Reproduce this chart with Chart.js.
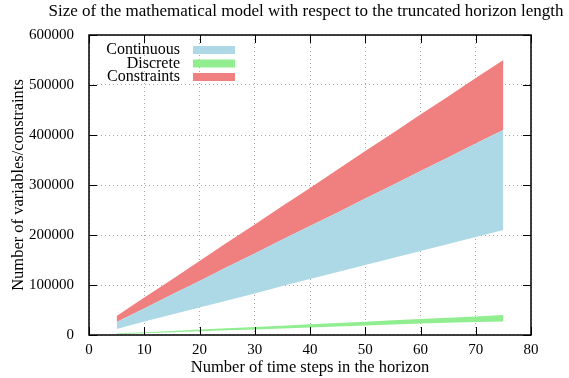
<!DOCTYPE html>
<html>
<head>
<meta charset="utf-8">
<script src="https://cdn.jsdelivr.net/npm/chart.js@4/dist/chart.umd.min.js"></script>
<style>
  html, body { margin: 0; padding: 0; background: #fff; }
  #wrap { width: 569px; height: 378px; }
</style>
</head>
<body>
<div id="wrap"><canvas id="c" width="569" height="378"></canvas></div>
<script>
// 数据
const steps = [5, 10, 15, 20, 25, 30, 35, 40, 45, 50, 55, 60, 65, 70, 75];
const continuousLow  = [12000, 27000, 41000, 55000, 69000, 83000, 98000, 112000, 126000, 140000, 154000, 168000, 182000, 196000, 210000];
const continuousHigh = [26000, 53000, 81000, 108000, 136000, 163000, 191000, 218000, 245000, 273000, 300000, 328000, 355000, 383000, 410000];
const discreteLow    = [1500, 3500, 5500, 7500, 9500, 11000, 13000, 15000, 17000, 19000, 21000, 23000, 24500, 26000, 27000];
const discreteHigh   = [3000, 5500, 8000, 11000, 13500, 16000, 18500, 21500, 24000, 26500, 29500, 32000, 34500, 37000, 40000];
const constraintsLow  = [26000, 53000, 81000, 108000, 136000, 163000, 191000, 218000, 245000, 273000, 300000, 328000, 355000, 383000, 410000];
const constraintsHigh = [38000, 75000, 111000, 148000, 185000, 221000, 258000, 294000, 331000, 368000, 404000, 441000, 477000, 514000, 550000];
const xTicks = [0, 10, 20, 30, 40, 50, 60, 70, 80];
const yTicks = [0, 100000, 200000, 300000, 400000, 500000, 600000];

const FONT = '"Liberation Serif", "DejaVu Serif", serif';
const pts = arr => arr.map((v, i) => ({ x: steps[i], y: v }));

function band(label, color, low, high) {
    return [
        { label: label, data: pts(low), borderWidth: 0, pointRadius: 0, fill: false, borderColor: color, backgroundColor: color },
        { label: label, data: pts(high), borderWidth: 0, pointRadius: 0, fill: '-1', borderColor: color, backgroundColor: color }
    ];
}

const legendItems = [
    ['Continuous', '#add8e6'],
    ['Discrete', '#90ee90'],
    ['Constraints', '#f08080']
];

// 标题、刻度和图例
const gnuplotLook = {
    id: 'gnuplotLook',
    afterDraw(chart) {
        const ctx = chart.ctx;
        const a = chart.chartArea;
        const xs = chart.scales.x, ys = chart.scales.y;
        ctx.save();
        // 标题
        ctx.fillStyle = '#000';
        ctx.font = '17px ' + FONT;
        ctx.textAlign = 'center';
        ctx.textBaseline = 'middle';
        ctx.fillText('Size of the mathematical model with respect to the truncated horizon length', 306, 12);

        // 刻度线
        ctx.strokeStyle = '#000';
        ctx.lineWidth = 1;
        const t = 8;
        ctx.beginPath();
        xTicks.forEach(v => {
            const px = Math.round(xs.getPixelForValue(v)) + 0.5;
            ctx.moveTo(px, a.bottom); ctx.lineTo(px, a.bottom - t);
            ctx.moveTo(px, a.top); ctx.lineTo(px, a.top + t);
        });
        yTicks.forEach(v => {
            const py = Math.round(ys.getPixelForValue(v)) + 0.5;
            ctx.moveTo(a.left, py); ctx.lineTo(a.left + t, py);
            ctx.moveTo(a.right, py); ctx.lineTo(a.right - t, py);
        });
        ctx.stroke();

        // 边框
        ctx.lineWidth = 1.5;
        ctx.strokeRect(a.left, a.top, a.right - a.left, a.bottom - a.top);

        // 图例
        ctx.font = '16px ' + FONT;
        ctx.textAlign = 'right';
        legendItems.forEach((it, i) => {
            const y = 50 + i * 13.5;
            ctx.fillStyle = '#000';
            ctx.fillText(it[0], 180, y);
            ctx.fillStyle = it[1];
            ctx.fillRect(193, y - 4, 42, 8);
        });
        ctx.restore();
    }
};

new Chart(document.getElementById('c'), {
    type: 'line',
    data: {
        datasets: [
            ...band('Continuous', '#add8e6', continuousLow, continuousHigh),
            ...band('Discrete', '#90ee90', discreteLow, discreteHigh),
            ...band('Constraints', '#f08080', constraintsLow, constraintsHigh)
        ]
    },
    options: {
        responsive: false,
        animation: false,
        layout: { padding: { top: 35, right: 38, left: 0, bottom: 0 } },
        plugins: {
            legend: { display: false },
            title: { display: false },
            tooltip: { enabled: false }
        },
        scales: {
            x: {
                type: 'linear',
                min: 0, max: 80,
                afterBuildTicks: s => { s.ticks = xTicks.map(v => ({ value: v })); },
                afterFit: s => { s.height = 43; },
                grid: { color: '#a8a8a8', drawTicks: false, tickLength: 0 },
                border: { display: false, dash: [1, 3] },
                ticks: { color: '#000', padding: 6, font: { family: FONT, size: 15 } },
                title: { display: true, text: 'Number of time steps in the horizon', color: '#000', padding: { top: 0, bottom: 0 }, font: { family: FONT, size: 16.5 } }
            },
            y: {
                min: 0, max: 600000,
                afterBuildTicks: s => { s.ticks = yTicks.map(v => ({ value: v })); },
                afterFit: s => { s.width = 89; },
                grid: { color: '#a8a8a8', drawTicks: false, tickLength: 0 },
                border: { display: false, dash: [1, 3] },
                ticks: { color: '#000', padding: 15, font: { family: FONT, size: 15 }, callback: v => String(v) },
                title: { display: true, text: 'Number of variables/constraints', color: '#000', padding: { top: 9, bottom: 0 }, font: { family: FONT, size: 16.5 } }
            }
        }
    },
    plugins: [gnuplotLook]
});
</script>
</body>
</html>
